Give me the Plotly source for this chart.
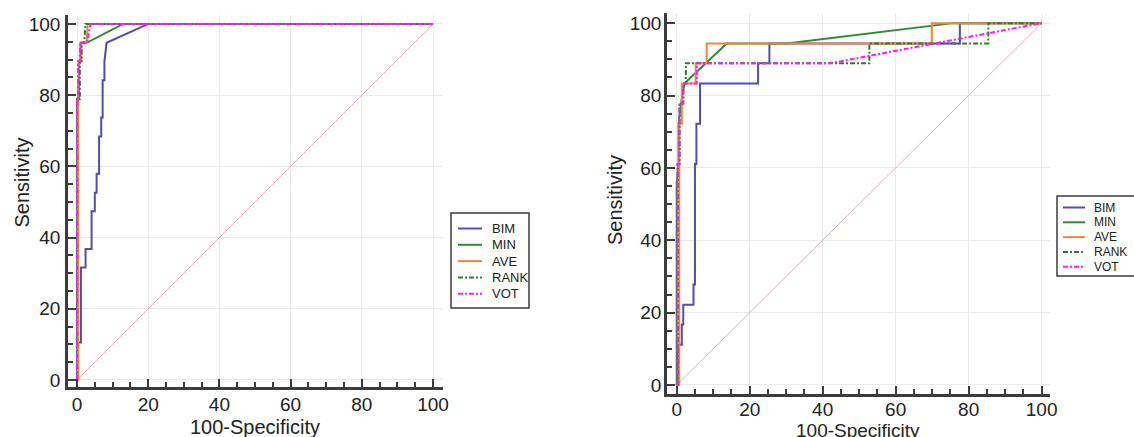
import plotly.graph_objects as go

# ---------------- data ----------------
ticks = [0, 20, 40, 60, 80, 100]
tick_labels = ["0", "20", "40", "60", "80", "100"]
series_names = ["BIM", "MIN", "AVE", "RANK", "VOT"]
x_title = "100-Specificity"
y_title = "Sensitivity"

# Left panel
left_bim_x = [0, 0.3, 0.3, 1.1, 1.1, 2.4, 2.4, 4.1, 4.1, 5.0, 5.0, 5.5, 5.5, 6.2, 6.2, 6.8, 6.8, 7.2, 7.2, 7.7, 7.7, 8.3, 20.0, 100]
left_bim_y = [0, 0, 10.5, 10.5, 31.6, 31.6, 36.8, 36.8, 47.4, 47.4, 52.6, 52.6, 57.9, 57.9, 68.4, 68.4, 73.7, 73.7, 84.2, 84.2, 89.5, 94.7, 100, 100]
left_min_x = [0, 0, 0.5, 0.5, 1.0, 1.0, 2.7, 13.0, 100]
left_min_y = [0, 78.9, 78.9, 89.5, 89.5, 94.7, 94.7, 100, 100]
left_ave_x = [0, 0.3, 0.3, 0.6, 0.6, 1.2, 1.2, 2.7, 3.0, 100]
left_ave_y = [0, 0, 84.2, 84.2, 89.5, 89.5, 94.7, 94.7, 100, 100]
left_rank_x = [0, 0, 0.8, 0.8, 1.3, 1.3, 2.0, 2.4, 100]
left_rank_y = [0, 78.9, 78.9, 89.5, 89.5, 94.7, 94.7, 100, 100]
left_vot_x = [0, 0, 0.3, 0.3, 0.8, 0.8, 2.8, 3.8, 100]
left_vot_y = [0, 78.9, 78.9, 89.5, 89.5, 94.7, 94.7, 100, 100]

# Right panel
right_bim_x = [0, 0.3, 0.3, 1.4, 1.4, 1.8, 1.8, 4.6, 4.6, 5.0, 5.0, 5.4, 5.4, 6.4, 6.4, 22.3, 22.3, 25.4, 25.4, 77.6, 77.6, 100]
right_bim_y = [0, 0, 11.1, 11.1, 16.7, 16.7, 22.2, 22.2, 27.8, 27.8, 61.1, 61.1, 72.2, 72.2, 83.3, 83.3, 88.9, 88.9, 94.4, 94.4, 100, 100]
right_min_x = [0, 0, 0.5, 0.5, 1.2, 2.1, 13.7, 30.1, 75.8, 100]
right_min_y = [0, 55.6, 61.1, 72.2, 77.8, 83.3, 94.4, 94.4, 100, 100]
right_ave_x = [0, 0.7, 0.7, 1.4, 1.4, 5.2, 5.2, 8.2, 8.2, 69.9, 69.9, 100]
right_ave_y = [0, 0, 72.2, 72.2, 83.3, 83.3, 88.9, 88.9, 94.4, 94.4, 100, 100]
right_rank_x = [0, 0.3, 0.3, 0.8, 0.8, 1.8, 1.8, 2.5, 2.5, 52.8, 52.8, 85.4, 85.4, 100]
right_rank_y = [0, 0, 61.1, 61.1, 77.8, 77.8, 83.3, 83.3, 88.9, 88.9, 94.4, 94.4, 100, 100]
right_vot_x = [0, 0.2, 0.2, 0.7, 0.7, 1.8, 1.8, 5.5, 5.5, 42.0, 100]
right_vot_y = [0, 0, 61.1, 61.1, 77.8, 77.8, 83.3, 83.3, 88.9, 88.9, 100]

diag = [0, 100]

# ---------------- styles ----------------
FONT = "Liberation Sans, Arial, sans-serif"
AX = "#3c3c3c"
TXT = "#222222"
colors = {"BIM": "#4f4fb0", "MIN": "#2f8a34", "AVE": "#f5833a", "RANK": "#2e7d32", "VOT": "#ff1aff"}
dashes = {"BIM": "solid", "MIN": "solid", "AVE": "solid", "RANK": "5px,2px,2px,2px", "VOT": "5px,2px,2px,2px"}

W, H = 1134, 437
fig = go.Figure()
shapes = []
annotations = []


def add_panel(xs, ys, xa, ya):
    fig.add_trace(go.Scatter(x=diag, y=diag, mode="lines", xaxis=xa, yaxis=ya,
                             line=dict(color="#e6b0b0", width=1), showlegend=False, hoverinfo="skip"))
    for name, x, y in zip(series_names, xs, ys):
        fig.add_trace(go.Scatter(x=x, y=y, mode="lines", name=name, xaxis=xa, yaxis=ya,
                                 showlegend=False,
                                 line=dict(color=colors[name], width=2, dash=dashes[name])))


def add_legend(box, y_first, y_step, line_x, text_x, fsize):
    x0, y0, x1, y1 = box
    shapes.append(dict(type="rect", xref="paper", yref="paper",
                       x0=x0 / W, x1=x1 / W, y0=1 - y1 / H, y1=1 - y0 / H,
                       line=dict(color=AX, width=1.5), fillcolor="white", layer="above"))
    for i, name in enumerate(series_names):
        yy = 1 - (y_first + i * y_step) / H
        shapes.append(dict(type="line", xref="paper", yref="paper",
                           x0=line_x[0] / W, x1=line_x[1] / W, y0=yy, y1=yy,
                           line=dict(color=colors[name], width=2, dash=dashes[name]), layer="above"))
        annotations.append(dict(text=name, x=text_x / W, y=yy, xref="paper", yref="paper",
                                showarrow=False, xanchor="left", yanchor="middle",
                                font=dict(family=FONT, size=fsize, color=TXT)))


add_panel([left_bim_x, left_min_x, left_ave_x, left_rank_x, left_vot_x],
          [left_bim_y, left_min_y, left_ave_y, left_rank_y, left_vot_y], "x", "y")
add_panel([right_bim_x, right_min_x, right_ave_x, right_rank_x, right_vot_x],
          [right_bim_y, right_min_y, right_ave_y, right_rank_y, right_vot_y], "x2", "y2")

add_legend((451, 213, 529, 308), 228.5, 16.3, (458, 482), 490, 13)
add_legend((1057, 196, 1140, 276), 207.5, 14.8, (1063, 1085), 1092, 12)


def axis(domain, rng, anchor, standoff):
    return dict(domain=domain, range=rng, anchor=anchor,
                tickmode="array", tickvals=ticks, ticktext=tick_labels,
                ticks="inside", ticklen=8, tickwidth=2, tickcolor=AX,
                showline=True, linecolor=AX, linewidth=2.5, mirror=False,
                showgrid=True, gridcolor="#e9e9e9", gridwidth=1, zeroline=False,
                minor=dict(dtick=5, tick0=0, ticks="inside", ticklen=5, tickwidth=1.5,
                           tickcolor=AX, showgrid=False),
                tickfont=dict(family=FONT, size=19, color=TXT),
                ticklabelstandoff=standoff, fixedrange=True)


for txt, x, y, ang, fs in [(y_title, 21.5, 183, -90, 20), (x_title, 255, 427, 0, 20),
                           (y_title, 615, 200, -90, 20), (x_title, 858, 430, 0, 19)]:
    annotations.append(dict(text=txt, x=x / W, y=1 - y / H, xref="paper", yref="paper",
                            textangle=ang, showarrow=False, xanchor="center", yanchor="middle",
                            font=dict(family=FONT, size=fs, color=TXT)))

fig.update_layout(
    width=W, height=H,
    margin=dict(l=0, r=0, t=0, b=0, autoexpand=False),
    paper_bgcolor="white", plot_bgcolor="white",
    font=dict(family=FONT, color=TXT),
    showlegend=False,
    xaxis=axis([68 / W, 443 / W], [-2.53, 102.8], "y", -2),
    yaxis=axis([1 - 387 / H, 1 - 15 / H], [-1.97, 102.5], "x", 1),
    xaxis2=axis([667 / W, 1050 / W], [-2.66, 102.3], "y2", -4),
    yaxis2=axis([1 - 394 / H, 1 - 13 / H], [-2.49, 102.8], "x2", -1),
    shapes=shapes,
    annotations=annotations,
)

fig.write_html("out.html", config={"displayModeBar": False},
               post_script="document.body.style.margin='0';document.body.style.overflow='hidden';")
